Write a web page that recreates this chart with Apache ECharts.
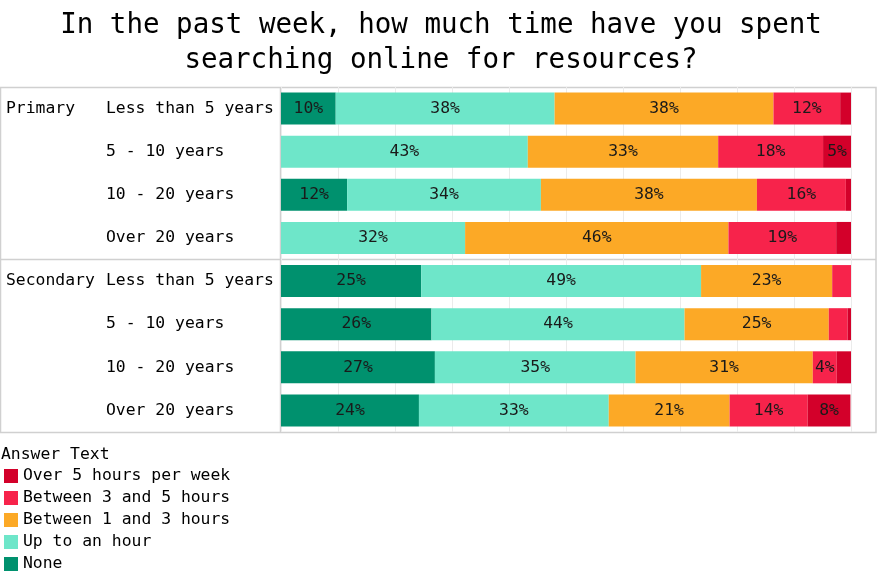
<!DOCTYPE html>
<html>
<head>
<meta charset="utf-8">
<script src="https://cdn.jsdelivr.net/npm/echarts@6/dist/echarts.min.js"></script>
<style>
html,body{margin:0;padding:0;background:#fff;}
#chart{width:882px;height:575px;}
</style>
</head>
<body>
<div id="chart"></div>
<script>
// ---- data ----
const groups = ['Primary', '', '', '', 'Secondary', '', '', ''];
const categories = ['Less than 5 years', '5 - 10 years', '10 - 20 years', 'Over 20 years',
                    'Less than 5 years', '5 - 10 years', '10 - 20 years', 'Over 20 years'];
const seriesNames = ['None', 'Up to an hour', 'Between 1 and 3 hours', 'Between 3 and 5 hours', 'Over 5 hours per week'];
const none          = [9.6, 0,    11.6, 0,    24.6, 26.4, 27.0, 24.2];
const upToHour      = [38.4, 43.3, 34.0, 32.3, 49.1, 44.4, 35.2, 33.3];
const between1and3  = [38.4, 33.4, 37.9, 46.2, 23.0, 25.3, 31.1, 21.2];
const between3and5  = [11.7, 18.4, 15.6, 18.9, 3.3, 3.3, 4.2, 13.7];
const over5         = [1.9, 4.9, 0.9, 2.6, 0, 0.6, 2.5, 7.5];
const seriesValues = [none, upToHour, between1and3, between3and5, over5];
const legendOrder = ['Over 5 hours per week', 'Between 3 and 5 hours', 'Between 1 and 3 hours', 'Up to an hour', 'None'];
const xTicks = [0, 10, 20, 30, 40, 50, 60, 70, 80, 90, 100];

// ---- style ----
const colors = ['#00916e', '#6ee6c9', '#fca926', '#f7234b', '#d3002a'];
const FONT = '"DejaVu Sans Mono", "Liberation Mono", monospace';
const W = 882, H = 575;
const G = {left: 281, right: 31, top: 87, bottom: 143};
const frameColor = '#d0d0d0';
const FS = 16.4;

const chart = echarts.init(document.getElementById('chart'), null, {renderer: 'canvas'});

const series = seriesNames.map((name, i) => ({
  name: name,
  type: 'bar',
  stack: 'total',
  barWidth: 32,
  data: seriesValues[i],
  itemStyle: {color: colors[i]},
  label: {
    show: true,
    position: 'inside',
    fontFamily: FONT,
    fontSize: FS,
    color: '#1a1a1a',
    formatter: p => (p.value >= 3.5 ? Math.round(p.value) + '%' : '')
  },
  emphasis: {disabled: true}
}));

const plotH = H - G.top - G.bottom;
const sepY = G.top + plotH / categories.length * 4;

chart.setOption({
  animation: false,
  title: [
    {
      text: 'In the past week, how much time have you spent\nsearching online for resources?',
      left: 'center',
      top: 3,
      textStyle: {fontFamily: FONT, fontSize: 27.5, fontWeight: 'normal', color: '#000', lineHeight: 35}
    },
    {
      text: 'Answer Text',
      left: 1,
      top: 447,
      padding: 0,
      textStyle: {fontFamily: FONT, fontSize: FS, fontWeight: 'normal', color: '#000'}
    }
  ],
  legend: {
    data: legendOrder,
    orient: 'vertical',
    left: 4,
    top: 468,
    icon: 'rect',
    itemWidth: 14,
    itemHeight: 14,
    itemGap: 6,
    itemTextGap: 5,
    padding: 0,
    selectedMode: false,
    textStyle: {fontFamily: FONT, fontSize: FS, color: '#000'}
  },
  grid: {left: G.left, right: G.right, top: G.top, bottom: G.bottom, containLabel: false},
  xAxis: {
    type: 'value',
    min: xTicks[0],
    max: xTicks[xTicks.length - 1],
    interval: xTicks[1] - xTicks[0],
    axisLabel: {show: false},
    axisLine: {show: false},
    axisTick: {show: false},
    splitLine: {show: true, lineStyle: {color: '#ebebeb', width: 1}}
  },
  yAxis: {
    type: 'category',
    inverse: true,
    data: categories,
    axisLine: {show: false},
    axisTick: {show: false},
    axisLabel: {
      align: 'left',
      margin: G.left - 6,
      fontFamily: FONT,
      fontSize: FS,
      color: '#000',
      formatter: (v, i) => '{g|' + groups[i] + '}{s|' + v + '}',
      rich: {
        g: {width: 100, align: 'left', fontFamily: FONT, fontSize: FS, color: '#000'},
        s: {align: 'left', fontFamily: FONT, fontSize: FS, color: '#000'}
      }
    }
  },
  graphic: [
    {type: 'rect', silent: true, z: 0,
     shape: {x: 0.5, y: G.top + 0.5, width: W - 6.5, height: plotH},
     style: {fill: 'none', stroke: frameColor, lineWidth: 1.5}},
    {type: 'line', silent: true, z: 0,
     shape: {x1: G.left - 0.5, y1: G.top, x2: G.left - 0.5, y2: G.top + plotH},
     style: {stroke: frameColor, lineWidth: 1.5}},
    {type: 'line', silent: true, z: 0,
     shape: {x1: 0, y1: sepY, x2: W - 6, y2: sepY},
     style: {stroke: frameColor, lineWidth: 1.5}}
  ],
  series: series
});
</script>
</body>
</html>
